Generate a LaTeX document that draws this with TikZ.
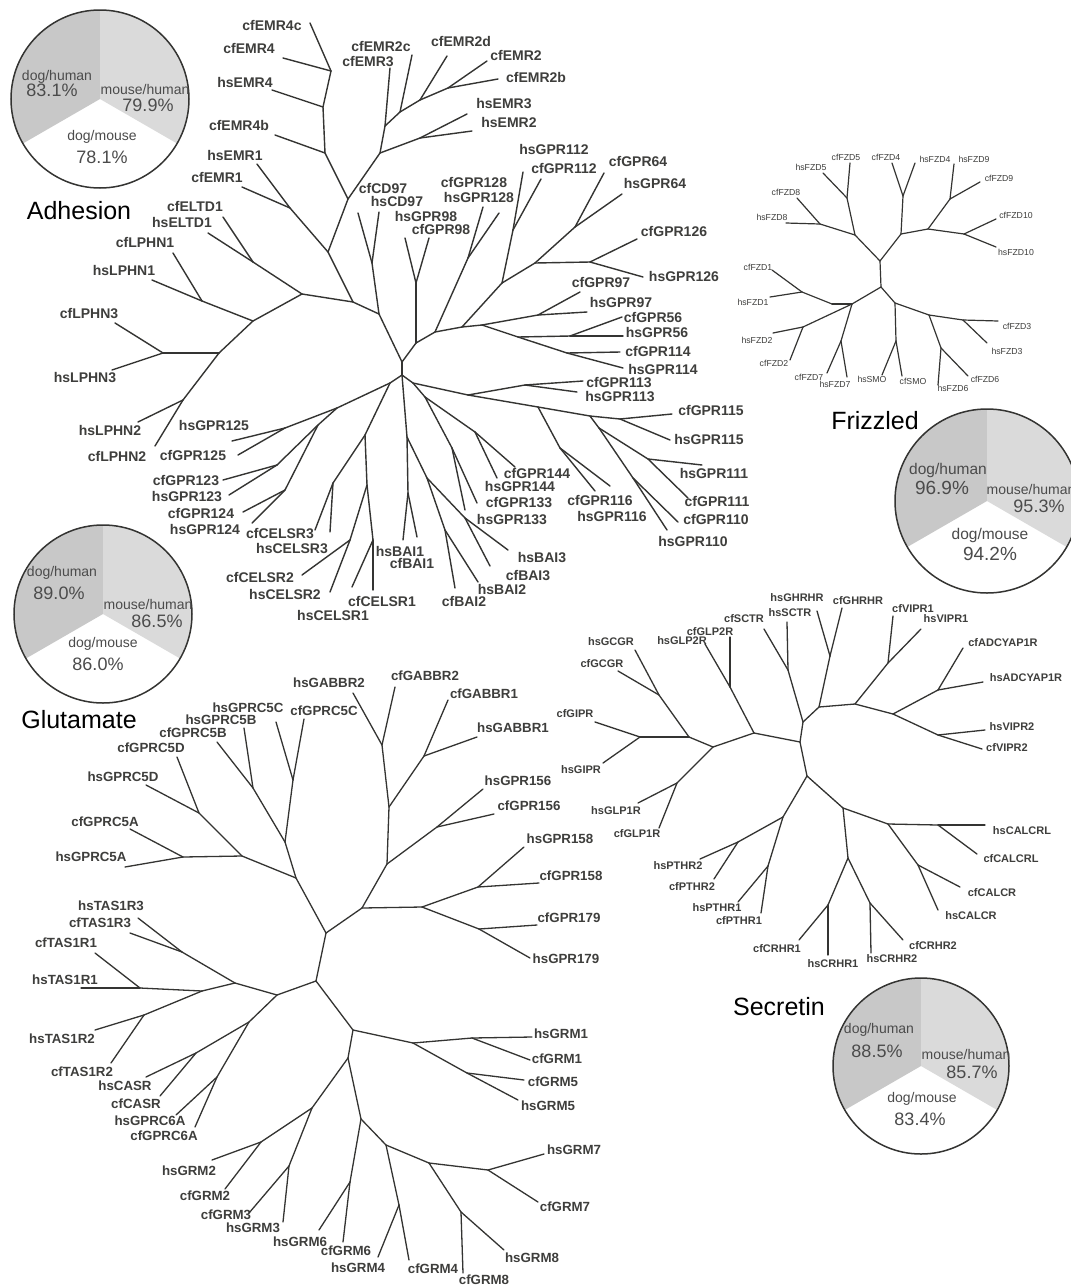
\documentclass[tikz,border=0pt]{standalone}
\usepackage{fontspec}
\setmainfont{Liberation Sans}
\definecolor{lc}{RGB}{52,52,50}
\definecolor{tc}{RGB}{62,62,60}
\definecolor{ptc}{RGB}{75,75,75}
\definecolor{pdh}{RGB}{200,200,200}
\definecolor{pmh}{RGB}{218,218,218}
\newcommand\lf[4]{\coordinate (#1) at (#2); \node[#4] (L#1) at (#3) {#1};}
\newcommand\mypie[2]{%
  \fill[pdh] (#1) -- ++(90:#2pt) arc[start angle=90,end angle=210,radius=#2pt] -- cycle;
  \fill[pmh] (#1) -- ++(-30:#2pt) arc[start angle=-30,end angle=90,radius=#2pt] -- cycle;
  \draw[pieborder] (#1) circle[radius=#2pt];}
\begin{document}
\begin{tikzpicture}[x=1pt,y=-1pt,
  br/.style={draw=lc,line width=1.4pt,line cap=round,line join=round},
  la/.style={font=\bfseries\fontsize{14}{14}\selectfont,text=tc,inner sep=0pt},
  lfz/.style={font=\fontsize{8.7}{9}\selectfont,text=tc,inner sep=0pt},
  lsc/.style={font=\bfseries\fontsize{11}{11}\selectfont,text=tc,inner sep=0pt},
  lgl/.style={font=\bfseries\fontsize{13.3}{13.3}\selectfont,text=tc,inner sep=0pt},
  ttl/.style={font=\fontsize{25}{25}\selectfont,text=black,inner sep=0pt},
  pl/.style={font=\fontsize{14}{14}\selectfont,text=ptc,inner sep=0pt},
  pn/.style={font=\fontsize{18}{18}\selectfont,text=ptc,inner sep=0pt},
  pieborder/.style={draw=lc,line width=1.5pt}]
\fill[white] (0,0) rectangle (1071,1286);
\useasboundingbox (0,0) rectangle (1071,1286);

% ================= ADHESION =================
\foreach \n/\p in {aJ1/{331,71},aJ2/{323,107},aJ3/{325,153},aJ4/{348,199},aJ5/{380,153},aEMR23/{420,138},
 aJ6/{385,126},aJ7/{400,112},aJ8/{420,100},aJ9/{448,88},aEMR1/{290,208},aJ10/{328,252},aJ11/{353,302},
 aELTD/{253,262},aJ12/{302,294},aJ13/{253,321},aLPHN1/{202,301},aJ14/{219,353},aLPHN3/{163,353},
 aLPHN2/{183,400},aJ15/{379,314},aCD97/{372,263},aCa/{402,362},aCb/{402,375},aK1/{416,343},
 aGPR98/{416,283},aK2/{435,332},aGPR128/{468,258},aK3/{462,327},aK4/{502,283},aGPR112/{513,230},
 aK5/{535,263},aGPR64/{575,227},aGPR126/{590,262},aK6/{482,325},aGPR97/{538,315},aK7/{518,337},
 aGPR56/{570,336},aGPR114/{567,353},aL1/{413,383},aL2/{468,395},aL3/{425,397},aGPR144/{475,432},
 aGPR133/{452,448},aGPR113/{525,385},aL4/{538,407},aGPR116/{560,448},aL5/{590,416},aGPR115/{620,419},
 aL6/{599,428},aGPR111/{648,459},aGPR110/{633,478},aM1/{407,437},aBAI1/{408,493},aM2/{427,478},
 aBAI3/{465,518},aBAI2/{445,530},aN1/{390,383},aQ1/{365,435},aCELSR3/{333,483},aP1/{367,485},
 aCELSR1/{373,540},aCELSR2/{350,540},aQ2/{337,408},aGPR125/{285,428},aQ3/{318,425},
 aGPR123/{277,465},aGPR124/{285,490}}
 {\coordinate (\n) at (\p);}

\lf{cfEMR4c}{310,23}{272,25}{la}
\lf{cfEMR4}{283,58}{249,48}{la}
\lf{hsEMR4}{272,90}{245,82}{la}
\lf{cfEMR4b}{275,135}{239,125}{la}
\lf{hsEMR1}{257,164}{235,155}{la}
\lf{cfEMR1}{242,187}{217,177}{la}
\lf{cfELTD1}{223,217}{195,206}{la}
\lf{hsELTD1}{208,233}{182,222}{la}
\lf{cfLPHN1}{173,253}{145,242}{la}
\lf{hsLPHN1}{152,280}{124,270}{la}
\lf{cfLPHN3}{115,323}{89,313}{la}
\lf{hsLPHN3}{112,370}{85,377}{la}
\lf{hsLPHN2}{138,422}{110,430}{la}
\lf{cfLPHN2}{155,446}{117,456}{la}
\lf{hsGPR125}{232,441}{214,425}{la}
\lf{cfGPR125}{238,455}{193,455}{la}
\lf{cfGPR123}{223,480}{186,480}{la}
\lf{hsGPR123}{229,495}{187,496}{la}
\lf{cfGPR124}{243,512}{201,513}{la}
\lf{hsGPR124}{252,523}{205,529}{la}
\lf{cfCELSR3}{315,530}{280,533}{la}
\lf{hsCELSR3}{330,532}{292,548}{la}
\lf{cfCELSR2}{302,575}{260,577}{la}
\lf{hsCELSR2}{330,592}{285,594}{la}
\lf{hsCELSR1}{352,587}{333,615}{la}
\lf{cfCELSR1}{373,590}{382,601}{la}
\lf{hsBAI1}{403,540}{400,551}{la}
\lf{cfBAI1}{417,537}{412,563}{la}
\lf{cfBAI2}{455,588}{464,601}{la}
\lf{hsBAI2}{478,582}{502,589}{la}
\lf{cfBAI3}{490,566}{528,575}{la}
\lf{hsBAI3}{508,550}{542,557}{la}
\lf{cfGPR133}{477,503}{519,502}{la}
\lf{hsGPR133}{465,510}{512,519}{la}
\lf{cfGPR144}{515,467}{537,473}{la}
\lf{hsGPR144}{497,478}{520,486}{la}
\lf{cfGPR116}{595,491}{600,500}{la}
\lf{hsGPR116}{610,486}{612,516}{la}
\lf{hsGPR110}{667,530}{693,541}{la}
\lf{cfGPR110}{678,522}{716,519}{la}
\lf{cfGPR111}{688,498}{717,501}{la}
\lf{hsGPR111}{702,465}{714,473}{la}
\lf{cfGPR115}{672,414}{711,410}{la}
\lf{hsGPR115}{670,440}{709,439}{la}
\lf{cfGPR113}{583,381}{619,382}{la}
\lf{hsGPR113}{577,392}{620,396}{la}
\lf{hsGPR114}{623,368}{663,369}{la}
\lf{cfGPR114}{620,352}{658,351}{la}
\lf{hsGPR56}{623,336}{657,332}{la}
\lf{cfGPR56}{622,317}{653,317}{la}
\lf{hsGPR97}{587,312}{621,302}{la}
\lf{cfGPR97}{580,292}{601,282}{la}
\lf{hsGPR126}{643,277}{684,276}{la}
\lf{cfGPR126}{637,239}{674,231}{la}
\lf{hsGPR64}{622,194}{655,183}{la}
\lf{cfGPR64}{604,173}{638,161}{la}
\lf{cfGPR112}{541,179}{564,168}{la}
\lf{hsGPR112}{523,172}{554,149}{la}
\lf{hsGPR128}{499,213}{479,197}{la}
\lf{cfGPR128}{483,207}{474,182}{la}
\lf{hsGPR98}{405,238}{426,216}{la}
\lf{cfGPR98}{429,238}{441,229}{la}
\lf{cfCD97}{358,213}{383,188}{la}
\lf{hsCD97}{379,212}{397,201}{la}
\lf{hsEMR2}{472,131}{509,122}{la}
\lf{hsEMR3}{467,114}{504,104}{la}
\lf{cfEMR2b}{498,79}{536,77}{la}
\lf{cfEMR2}{487,61}{516,55}{la}
\lf{cfEMR2d}{447,56}{461,41}{la}
\lf{cfEMR2c}{412,55}{381,46}{la}
\lf{cfEMR3}{390,68}{368,62}{la}

\foreach \a/\b in {aJ1/cfEMR4c,aJ1/cfEMR4,aJ1/aJ2,aJ2/hsEMR4,aJ2/aJ3,aJ3/cfEMR4b,aJ3/aJ4,aJ4/aJ5,
 aJ5/aEMR23,aEMR23/hsEMR3,aEMR23/hsEMR2,aJ5/aJ6,aJ6/cfEMR3,aJ6/aJ7,aJ7/cfEMR2c,aJ7/aJ8,aJ8/cfEMR2d,
 aJ8/aJ9,aJ9/cfEMR2,aJ9/cfEMR2b,aJ4/aJ10,aEMR1/hsEMR1,aEMR1/cfEMR1,aEMR1/aJ10,aJ10/aJ11,
 aELTD/cfELTD1,aELTD/hsELTD1,aELTD/aJ12,aJ12/aJ11,aJ12/aJ13,aLPHN1/cfLPHN1,aLPHN1/hsLPHN1,
 aLPHN1/aJ13,aJ13/aJ14,aLPHN3/cfLPHN3,aLPHN3/hsLPHN3,aLPHN3/aJ14,aJ14/aLPHN2,aLPHN2/hsLPHN2,
 aLPHN2/cfLPHN2,aJ11/aJ15,aCD97/cfCD97,aCD97/hsCD97,aCD97/aJ15,aJ15/aCa,aCa/aCb,aCa/aK1,
 aK1/aGPR98,aGPR98/hsGPR98,aGPR98/cfGPR98,aK1/aK2,aK2/aGPR128,aGPR128/cfGPR128,aGPR128/hsGPR128,
 aK2/aK3,aK3/aK4,aK4/aGPR112,aGPR112/hsGPR112,aGPR112/cfGPR112,aK4/aK5,aK5/aGPR64,aGPR64/cfGPR64,
 aGPR64/hsGPR64,aK5/aGPR126,aGPR126/cfGPR126,aGPR126/hsGPR126,aK3/aK6,aK6/aGPR97,aGPR97/cfGPR97,
 aGPR97/hsGPR97,aK6/aK7,aK7/aGPR56,aGPR56/cfGPR56,aGPR56/hsGPR56,aK7/aGPR114,aGPR114/cfGPR114,
 aGPR114/hsGPR114,aCb/aL1,aL1/aL2,aL1/aL3,aL3/aGPR144,aGPR144/cfGPR144,aGPR144/hsGPR144,
 aL3/aGPR133,aGPR133/cfGPR133,aGPR133/hsGPR133,aL2/aGPR113,aGPR113/cfGPR113,aGPR113/hsGPR113,
 aL2/aL4,aL4/aGPR116,aGPR116/cfGPR116,aGPR116/hsGPR116,aL4/aL5,aL5/aGPR115,aGPR115/cfGPR115,
 aGPR115/hsGPR115,aL5/aL6,aL6/aGPR111,aGPR111/hsGPR111,aGPR111/cfGPR111,aL6/aGPR110,
 aGPR110/cfGPR110,aGPR110/hsGPR110,aCb/aM1,aM1/aBAI1,aBAI1/hsBAI1,aBAI1/cfBAI1,aM1/aM2,
 aM2/aBAI3,aBAI3/hsBAI3,aBAI3/cfBAI3,aM2/aBAI2,aBAI2/hsBAI2,aBAI2/cfBAI2,aCb/aN1,aN1/aQ1,
 aQ1/aCELSR3,aCELSR3/cfCELSR3,aCELSR3/hsCELSR3,aQ1/aP1,aP1/aCELSR1,aCELSR1/cfCELSR1,
 aCELSR1/hsCELSR1,aP1/aCELSR2,aCELSR2/cfCELSR2,aCELSR2/hsCELSR2,aN1/aQ2,aQ2/aGPR125,
 aGPR125/hsGPR125,aGPR125/cfGPR125,aQ2/aQ3,aQ3/aGPR123,aGPR123/cfGPR123,aGPR123/hsGPR123,
 aQ3/aGPR124,aGPR124/cfGPR124,aGPR124/hsGPR124}
 {\draw[br] (\a) -- (\b);}

% ================= FRIZZLED =================
\foreach \n/\p in {fF1/{880,261},fF2/{881,287},fF3/{855,235},fF4/{901,234},fFZD5/{847,198},
 fFZD8/{820,224},fFZD4/{903,196},fF5/{928,229},fFZD9/{950,199},fFZD10/{964,234},fF6/{852,304},
 fF7/{832,304},fFZD1/{802,292},fFZD2/{803,327},fFZD7/{841,341},fF8/{895,303},fSMO/{896,341},
 fF9/{929,315},fFZD3/{963,320},fFZD6/{941,348}}
 {\coordinate (\n) at (\p);}
\lf{hsFZD5}{823,173}{811,167}{lfz}
\lf{cfFZD5}{850,163}{846,157}{lfz}
\lf{cfFZD8}{797,198}{786,192}{lfz}
\lf{hsFZD8}{786,223}{772,217}{lfz}
\lf{cfFZD4}{892,163}{886,157}{lfz}
\lf{hsFZD4}{915,163}{935,159}{lfz}
\lf{hsFZD9}{954,164}{974,159}{lfz}
\lf{cfFZD9}{980,182}{999,178}{lfz}
\lf{cfFZD10}{996,219}{1016,215}{lfz}
\lf{hsFZD10}{996,247}{1016,252}{lfz}
\lf{cfFZD1}{772,270}{758,267}{lfz}
\lf{hsFZD1}{770,297}{753,302}{lfz}
\lf{hsFZD2}{773,333}{757,340}{lfz}
\lf{cfFZD2}{790,360}{774,363}{lfz}
\lf{cfFZD7}{827,373}{809,377}{lfz}
\lf{hsFZD7}{847,377}{835,384}{lfz}
\lf{hsSMO}{882,375}{872,379}{lfz}
\lf{cfSMO}{902,376}{913,381}{lfz}
\lf{hsFZD6}{938,385}{953,388}{lfz}
\lf{cfFZD6}{968,376}{985,379}{lfz}
\lf{cfFZD3}{998,321}{1017,326}{lfz}
\lf{hsFZD3}{987,343}{1007,351}{lfz}
\foreach \a/\b in {fF1/fF2,fF1/fF3,fF1/fF4,fF3/fFZD5,fFZD5/hsFZD5,fFZD5/cfFZD5,fF3/fFZD8,
 fFZD8/cfFZD8,fFZD8/hsFZD8,fF4/fFZD4,fFZD4/cfFZD4,fFZD4/hsFZD4,fF4/fF5,fF5/fFZD9,fFZD9/hsFZD9,
 fFZD9/cfFZD9,fF5/fFZD10,fFZD10/cfFZD10,fFZD10/hsFZD10,fF2/fF6,fF6/fF7,fF7/fFZD1,fFZD1/cfFZD1,
 fFZD1/hsFZD1,fF6/fFZD2,fFZD2/hsFZD2,fFZD2/cfFZD2,fF6/fFZD7,fFZD7/cfFZD7,fFZD7/hsFZD7,fF2/fF8,
 fF8/fSMO,fSMO/hsSMO,fSMO/cfSMO,fF8/fF9,fF9/fFZD3,fFZD3/cfFZD3,fFZD3/hsFZD3,fF9/fFZD6,
 fFZD6/hsFZD6,fFZD6/cfFZD6}
 {\draw[br,line width=1.2pt] (\a) -- (\b);}

% ================= SECRETIN =================
\foreach \n/\p in {sS0/{803,722},sS3/{819,707},sSCTR/{788,670},sGHRHR/{830,656},sS4/{855,704},
 sVIPR1/{888,663},sS5/{893,714},sADCY/{938,690},sVIPR2/{938,735},sS1/{800,742},sS6/{754,733},
 sGLP2R/{730,687},sS7/{713,747},sS8/{689,737},sGCGR/{659,695},sGIPR/{640,737},sGLP1R/{677,783},
 sS2/{807,776},sS9/{783,817},sPTHR2/{738,842},sPTHR1/{768,866},sS10/{843,808},sS11/{848,858},
 sCRHR1/{828,905},sCRHR2/{870,903},sS12/{888,824},sCALCRL/{938,825},sCALCR/{918,865}}
 {\coordinate (\n) at (\p);}
\lf{hsSCTR}{787,622}{790,613}{lsc}
\lf{cfSCTR}{764,629}{744,619}{lsc}
\lf{hsGHRHR}{817,611}{797,598}{lsc}
\lf{cfGHRHR}{842,608}{858,601}{lsc}
\lf{cfVIPR1}{893,616}{913,609}{lsc}
\lf{hsVIPR1}{921,629}{946,619}{lsc}
\lf{cfADCYAP1R}{963,648}{1003,643}{lsc}
\lf{hsADCYAP1R}{983,682}{1026,678}{lsc}
\lf{hsVIPR2}{985,730}{1012,727}{lsc}
\lf{cfVIPR2}{982,749}{1007,748}{lsc}
\lf{cfGLP2R}{730,637}{710,632}{lsc}
\lf{hsGLP2R}{705,644}{682,641}{lsc}
\lf{hsGCGR}{635,650}{611,642}{lsc}
\lf{cfGCGR}{618,671}{602,664}{lsc}
\lf{cfGIPR}{595,722}{575,714}{lsc}
\lf{hsGIPR}{603,763}{581,770}{lsc}
\lf{hsGLP1R}{638,803}{616,811}{lsc}
\lf{cfGLP1R}{659,828}{637,834}{lsc}
\lf{hsPTHR2}{700,859}{678,866}{lsc}
\lf{cfPTHR2}{714,879}{692,887}{lsc}
\lf{hsPTHR1}{738,902}{717,908}{lsc}
\lf{cfPTHR1}{761,913}{739,921}{lsc}
\lf{cfCRHR1}{799,940}{777,949}{lsc}
\lf{hsCRHR1}{828,955}{833,964}{lsc}
\lf{hsCRHR2}{871,953}{892,959}{lsc}
\lf{cfCRHR2}{903,940}{933,946}{lsc}
\lf{hsCALCRL}{985,825}{1022,831}{lsc}
\lf{cfCALCRL}{977,854}{1011,859}{lsc}
\lf{cfCALCR}{960,887}{992,893}{lsc}
\lf{hsCALCR}{938,910}{971,916}{lsc}
\foreach \a/\b in {sS0/sS3,sS0/sSCTR,sSCTR/hsSCTR,sSCTR/cfSCTR,sS3/sGHRHR,sGHRHR/hsGHRHR,
 sGHRHR/cfGHRHR,sS3/sS4,sS4/sVIPR1,sVIPR1/cfVIPR1,sVIPR1/hsVIPR1,sS4/sS5,sS5/sADCY,
 sADCY/cfADCYAP1R,sADCY/hsADCYAP1R,sS5/sVIPR2,sVIPR2/hsVIPR2,sVIPR2/cfVIPR2,sS0/sS1,sS1/sS6,
 sS6/sGLP2R,sGLP2R/cfGLP2R,sGLP2R/hsGLP2R,sS6/sS7,sS7/sS8,sS8/sGCGR,sGCGR/hsGCGR,sGCGR/cfGCGR,
 sS8/sGIPR,sGIPR/cfGIPR,sGIPR/hsGIPR,sS7/sGLP1R,sGLP1R/hsGLP1R,sGLP1R/cfGLP1R,sS1/sS2,sS2/sS9,
 sS9/sPTHR2,sPTHR2/hsPTHR2,sPTHR2/cfPTHR2,sS9/sPTHR1,sPTHR1/hsPTHR1,sPTHR1/cfPTHR1,sS2/sS10,
 sS10/sS11,sS11/sCRHR1,sCRHR1/cfCRHR1,sCRHR1/hsCRHR1,sS11/sCRHR2,sCRHR2/hsCRHR2,
 sCRHR2/cfCRHR2,sS10/sS12,sS12/sCALCRL,sCALCRL/hsCALCRL,sCALCRL/cfCALCRL,sS12/sCALCR,
 sCALCR/cfCALCR,sCALCR/hsCALCR}
 {\draw[br,line width=1.3pt] (\a) -- (\b);}

% ================= GLUTAMATE =================
\foreach \n/\p in {gGABBR2/{382,745},gGABBR1/{424,756},gG1/{389,807},gG2/{387,864},
 gGPR156/{437,827},gG3/{362,908},gG4/{422,907},gGPR158/{478,887},gGPR179/{479,929},gG5/{326,933},
 gG6/{296,878},gG7/{285,842},gGPRC5C/{293,780},gGPRC5B/{253,788},gG8/{242,856},gGPRC5D/{199,813},
 gGPRC5A/{183,857},gG9/{316,981},gT1/{277,995},gT2/{235,983},gTAS1R3/{182,952},gT3/{202,991},
 gTAS1R1/{140,988},gTAS1R2/{144,1015},gT4/{249,1022},gCASR/{196,1053},gGPRC6A/{217,1077},
 gG10/{353,1030},gGRM15/{413,1043},gGRM1/{472,1038},gGRM5/{467,1073},gG11/{348,1058},
 gG12/{312,1108},gGRM2/{261,1142},gGRM3/{289,1166},gG13/{361,1119},gGRM6/{350,1182},
 gG14/{386,1145},gGRM4/{399,1205},gG15/{429,1163},gGRM8/{461,1212},gGRM7/{488,1170}}
 {\coordinate (\n) at (\p);}
\lf{hsGABBR2}{353,693}{329,683}{lgl}
\lf{cfGABBR2}{395,687}{425,676}{lgl}
\lf{cfGABBR1}{448,700}{484,694}{lgl}
\lf{hsGABBR1}{477,737}{513,728}{lgl}
\lf{hsGPR156}{483,789}{518,781}{lgl}
\lf{cfGPR156}{494,814}{529,806}{lgl}
\lf{hsGPR158}{524,847}{560,839}{lgl}
\lf{cfGPR158}{539,883}{571,876}{lgl}
\lf{cfGPR179}{537,925}{569,918}{lgl}
\lf{hsGPR179}{530,958}{566,959}{lgl}
\lf{hsGPRC5C}{276,722}{248,708}{lgl}
\lf{cfGPRC5C}{304,719}{324,711}{lgl}
\lf{hsGPRC5B}{244,728}{221,720}{lgl}
\lf{cfGPRC5B}{217,742}{193,733}{lgl}
\lf{cfGPRC5D}{177,757}{151,748}{lgl}
\lf{hsGPRC5D}{146,785}{123,777}{lgl}
\lf{cfGPRC5A}{130,829}{105,822}{lgl}
\lf{hsGPRC5A}{125,867}{91,857}{lgl}
\lf{hsTAS1R3}{138,918}{111,906}{lgl}
\lf{cfTAS1R3}{130,933}{100,923}{lgl}
\lf{cfTAS1R1}{95,953}{66,943}{lgl}
\lf{hsTAS1R1}{81,988}{65,980}{lgl}
\lf{hsTAS1R2}{95,1030}{62,1039}{lgl}
\lf{cfTAS1R2}{111,1063}{82,1072}{lgl}
\lf{hsCASR}{146,1077}{125,1086}{lgl}
\lf{cfCASR}{160,1096}{136,1104}{lgl}
\lf{hsGPRC6A}{176,1115}{150,1121}{lgl}
\lf{cfGPRC6A}{195,1127}{164,1136}{lgl}
\lf{hsGRM1}{532,1037}{561,1034}{lgl}
\lf{cfGRM1}{530,1060}{557,1059}{lgl}
\lf{cfGRM5}{524,1080}{553,1082}{lgl}
\lf{hsGRM5}{518,1100}{548,1106}{lgl}
\lf{hsGRM7}{544,1154}{574,1150}{lgl}
\lf{cfGRM7}{538,1202}{565,1207}{lgl}
\lf{hsGRM2}{212,1160}{189,1171}{lgl}
\lf{cfGRM2}{225,1189}{205,1196}{lgl}
\lf{cfGRM3}{249,1213}{226,1215}{lgl}
\lf{hsGRM3}{283,1222}{253,1228}{lgl}
\lf{hsGRM6}{319,1230}{300,1242}{lgl}
\lf{cfGRM6}{343,1242}{346,1251}{lgl}
\lf{hsGRM4}{378,1257}{358,1268}{lgl}
\lf{cfGRM4}{409,1260}{433,1269}{lgl}
\lf{cfGRM8}{463,1273}{484,1280}{lgl}
\lf{hsGRM8}{504,1250}{532,1258}{lgl}
\foreach \a/\b in {gGABBR2/hsGABBR2,gGABBR2/cfGABBR2,gGABBR2/gG1,gGABBR1/cfGABBR1,
 gGABBR1/hsGABBR1,gGABBR1/gG1,gG1/gG2,gG2/gGPR156,gGPR156/hsGPR156,gGPR156/cfGPR156,gG2/gG3,
 gG3/gG4,gG4/gGPR158,gGPR158/hsGPR158,gGPR158/cfGPR158,gG4/gGPR179,gGPR179/cfGPR179,
 gGPR179/hsGPR179,gG3/gG5,gG5/gG6,gG6/gG7,gG7/gGPRC5C,gGPRC5C/hsGPRC5C,gGPRC5C/cfGPRC5C,
 gG7/gGPRC5B,gGPRC5B/hsGPRC5B,gGPRC5B/cfGPRC5B,gG6/gG8,gG8/gGPRC5D,gGPRC5D/cfGPRC5D,
 gGPRC5D/hsGPRC5D,gG8/gGPRC5A,gGPRC5A/cfGPRC5A,gGPRC5A/hsGPRC5A,gG5/gG9,gG9/gT1,gT1/gT2,
 gT2/gTAS1R3,gTAS1R3/hsTAS1R3,gTAS1R3/cfTAS1R3,gT2/gT3,gT3/gTAS1R1,gTAS1R1/cfTAS1R1,
 gTAS1R1/hsTAS1R1,gT3/gTAS1R2,gTAS1R2/hsTAS1R2,gTAS1R2/cfTAS1R2,gT1/gT4,gT4/gCASR,
 gCASR/hsCASR,gCASR/cfCASR,gT4/gGPRC6A,gGPRC6A/hsGPRC6A,gGPRC6A/cfGPRC6A,gG9/gG10,
 gG10/gGRM15,gGRM15/gGRM1,gGRM1/hsGRM1,gGRM1/cfGRM1,gGRM15/gGRM5,gGRM5/cfGRM5,gGRM5/hsGRM5,
 gG10/gG11,gG11/gG12,gG12/gGRM2,gGRM2/hsGRM2,gGRM2/cfGRM2,gG12/gGRM3,gGRM3/cfGRM3,
 gGRM3/hsGRM3,gG11/gG13,gG13/gGRM6,gGRM6/hsGRM6,gGRM6/cfGRM6,gG13/gG14,gG14/gGRM4,
 gGRM4/hsGRM4,gGRM4/cfGRM4,gG14/gG15,gG15/gGRM8,gGRM8/cfGRM8,gGRM8/hsGRM8,gG15/gGRM7,
 gGRM7/hsGRM7,gGRM7/cfGRM7}
 {\draw[br,line width=1.3pt] (\a) -- (\b);}

% ================= PIES AND TITLES =================
\coordinate (pA) at (100,99);
\mypie{pA}{89}
\node[pl] (pA1) at (57,77) {dog/human};
\node[pn] (pA2) at (52,90) {83.1\%};
\node[pl] (pA3) at (145,89) {mouse/human};
\node[pn] (pA4) at (148,105) {79.9\%};
\node[pl] (pA5) at (102,137) {dog/mouse};
\node[pn] (pA6) at (102,157) {78.1\%};
\node[ttl] (tA) at (79,211) {Adhesion};

\coordinate (pF) at (987,501);
\mypie{pF}{92}
\node[pl,font=\fontsize{15.5}{15.5}\selectfont] (pF1) at (948,470) {dog/human};
\node[pn,font=\fontsize{19}{19}\selectfont] (pF2) at (942,488) {96.9\%};
\node[pl] (pF3) at (1031,489) {mouse/human};
\node[pn] (pF4) at (1039,506) {95.3\%};
\node[pl,font=\fontsize{15.5}{15.5}\selectfont] (pF5) at (990,535) {dog/mouse};
\node[pn,font=\fontsize{19}{19}\selectfont] (pF6) at (990,554) {94.2\%};
\node[ttl] (tF) at (875,421) {Frizzled};

\coordinate (pG) at (103,614);
\mypie{pG}{89}
\node[pl] (pG1) at (62,573) {dog/human};
\node[pn] (pG2) at (59,593) {89.0\%};
\node[pl] (pG3) at (148,604) {mouse/human};
\node[pn] (pG4) at (157,621) {86.5\%};
\node[pl] (pG5) at (103,644) {dog/mouse};
\node[pn] (pG6) at (98,664) {86.0\%};
\node[ttl] (tG) at (79,720) {Glutamate};

\coordinate (pS) at (921,1066);
\mypie{pS}{88}
\node[pl] (pS1) at (879,1030) {dog/human};
\node[pn] (pS2) at (877,1051) {88.5\%};
\node[pl] (pS3) at (966,1054) {mouse/human};
\node[pn] (pS4) at (972,1072) {85.7\%};
\node[pl] (pS5) at (922,1099) {dog/mouse};
\node[pn] (pS6) at (920,1119) {83.4\%};
\node[ttl] (tS) at (779,1007) {Secretin};
\end{tikzpicture}
\end{document}
